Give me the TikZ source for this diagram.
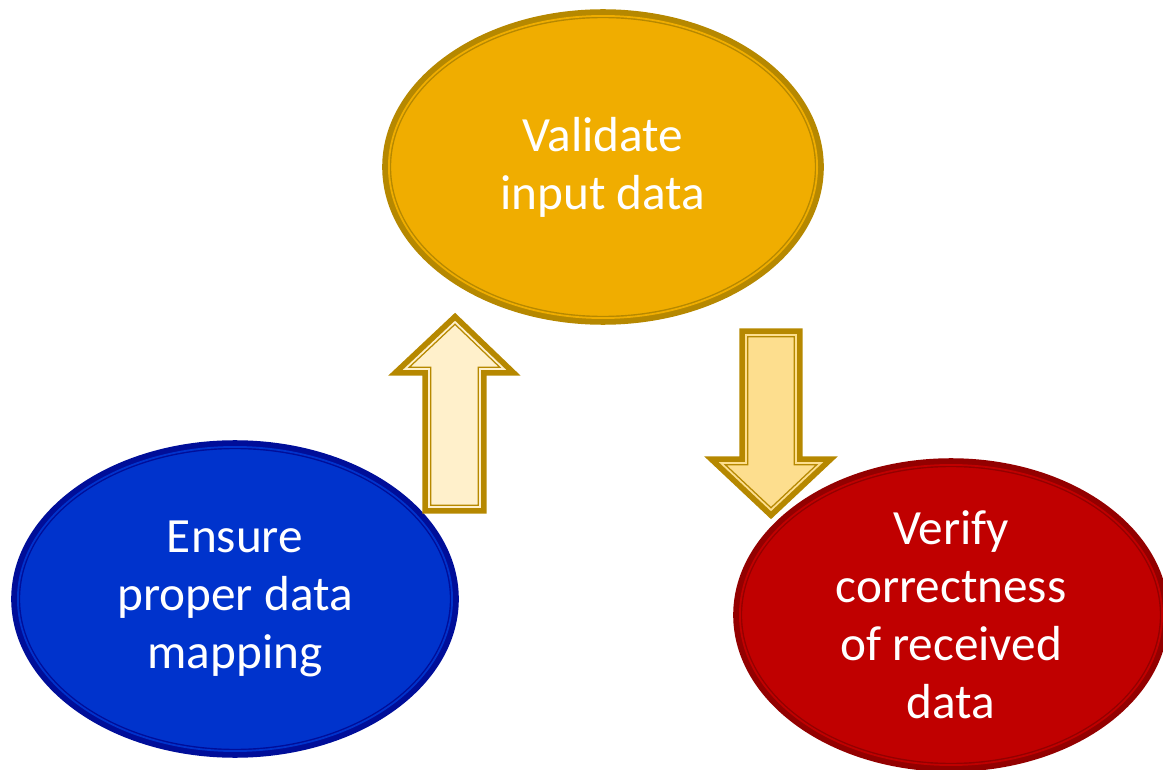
\documentclass[tikz,border=0pt]{standalone}
\usepackage{fontspec}
\setmainfont{Carlito}
\usetikzlibrary{shapes.geometric}

\definecolor{goldfill}{HTML}{F0AD00}
\definecolor{goldline}{HTML}{B68800}
\definecolor{bluefill}{HTML}{0033CC}
\definecolor{blueline}{HTML}{000E99}
\definecolor{redfill}{HTML}{C00000}
\definecolor{redline}{HTML}{930000}
\definecolor{upfill}{HTML}{FFF0CB}
\definecolor{downfill}{HTML}{FDDE8E}

\begin{document}
\begin{tikzpicture}[x=0.01cm, y=-0.01cm,
	rim/.style n args={2}{draw=#1, fill=#2, line width=0.4pt, double=#2, double distance=0.5pt,
		preaction={draw=#1, line width=3.8pt}},
	bubble/.style n args={2}{ellipse, rim={#1}{#2}, text=white, align=center, inner sep=0pt,
		font=\fontsize{14}{16.5}\selectfont},
	blockarrow/.style={rim={goldline}{#1}, line join=miter}]
	\useasboundingbox (0,0) rectangle (1163,770);

	\node [bubble={goldline}{goldfill}, minimum width=4.28cm, minimum height=3.02cm] (validate) at (603,167) {Validate\\input data};
	\node [bubble={blueline}{bluefill}, minimum width=4.34cm, minimum height=3.04cm] (mapping) at (235,599) {Ensure\\proper data\\mapping};
	\node [bubble={redline}{redfill}, minimum width=4.22cm, minimum height=3.00cm] (verify) at (951,615) {Verify\\correctness\\of received\\data};

	% block arrows between the bubbles
	\draw [blockarrow=upfill] (455,322) -- (504,369) -- (480,369) -- (480,507) -- (429,507) -- (429,369) -- (405,369) -- cycle;
	\draw [blockarrow=downfill] (746,335) -- (796,335) -- (796,463) -- (821,463) -- (771,510) -- (721,463) -- (746,463) -- cycle;
\end{tikzpicture}
\end{document}
